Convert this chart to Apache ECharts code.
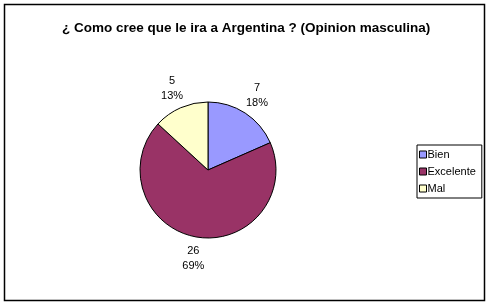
<!DOCTYPE html>
<html><head><meta charset="utf-8">
<script src="https://cdn.jsdelivr.net/npm/echarts@6/dist/echarts.min.js"></script>
<style>html,body{margin:0;padding:0;background:#fff}#c{width:490px;height:306px}</style>
</head><body><div id="c"></div>
<script>
const title = '¿ Como cree que le ira a Argentina ? (Opinion masculina)';
const categories = ['Bien', 'Excelente', 'Mal'];
const values = [7, 26, 5];
const percentLabels = ['18%', '69%', '13%'];
const colors = ['#9999FF', '#993366', '#FFFFCC'];

const data = categories.map((n, i) => ({name: n, value: values[i], itemStyle: {color: colors[i]}}));
const chart = echarts.init(document.getElementById('c'), null, {renderer: 'canvas'});
chart.setOption({
  animation: false,
  backgroundColor: '#fff',
  title: {
    text: title, left: 57, top: 16,
    textStyle: {fontFamily: 'Liberation Sans, Arial', fontWeight: 'bold', fontSize: 13.5, color: '#000'}
  },
  graphic: [{type: 'rect', shape: {x: 4.5, y: 4.5, width: 480, height: 296}, style: {fill: 'none', stroke: '#000', lineWidth: 1.5}, z: 100}],
  legend: {
    orient: 'vertical', left: 417, top: 145,
    data: categories,
    backgroundColor: '#fff', borderColor: '#000', borderWidth: 1,
    padding: [4, 6, 4, 2], itemGap: 6, itemWidth: 7, itemHeight: 7, icon: 'rect',
    itemStyle: {borderColor: '#000', borderWidth: 1},
    textStyle: {fontFamily: 'Liberation Sans, Arial', fontSize: 11, color: '#000', padding: [0, 0, 0, -4]}
  },
  series: [{
    type: 'pie', center: [208, 170], radius: 68, startAngle: 90, clockwise: true,
    data: data,
    itemStyle: {borderColor: '#000', borderWidth: 1},
    label: {show: false}, labelLine: {show: false}, emphasis: {disabled: true}
  }, {
    type: 'pie', center: [208, 170], radius: [68, 105], startAngle: 90, clockwise: true, silent: true,
    data: data.map(d => ({name: d.name, value: d.value, itemStyle: {color: 'rgba(0,0,0,0)'}})),
    itemStyle: {borderWidth: 0},
    label: {show: true, position: 'inside', formatter: p => p.value + '\n' + percentLabels[p.dataIndex], fontFamily: 'Liberation Sans, Arial', fontSize: 11, color: '#000', lineHeight: 15, align: 'center'},
    labelLine: {show: false}, emphasis: {disabled: true}
  }]
});
</script></body></html>
